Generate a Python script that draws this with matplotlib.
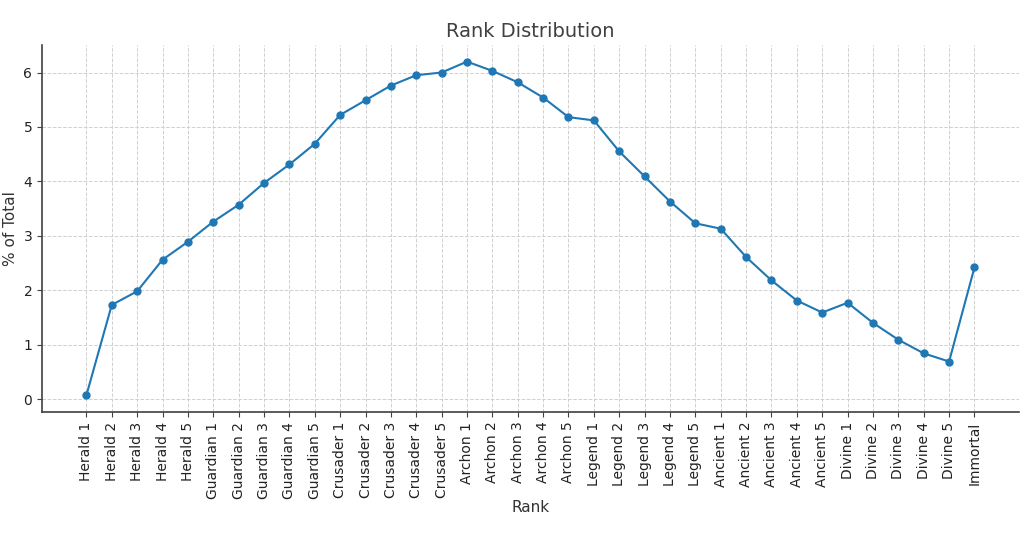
import matplotlib.pyplot as plt
import numpy as np

ranks = ['Herald 1', 'Herald 2', 'Herald 3', 'Herald 4', 'Herald 5',
         'Guardian 1', 'Guardian 2', 'Guardian 3', 'Guardian 4', 'Guardian 5',
         'Crusader 1', 'Crusader 2', 'Crusader 3', 'Crusader 4', 'Crusader 5',
         'Archon 1', 'Archon 2', 'Archon 3', 'Archon 4', 'Archon 5',
         'Legend 1', 'Legend 2', 'Legend 3', 'Legend 4', 'Legend 5',
         'Ancient 1', 'Ancient 2', 'Ancient 3', 'Ancient 4', 'Ancient 5',
         'Divine 1', 'Divine 2', 'Divine 3', 'Divine 4', 'Divine 5',
         'Immortal']
percent = [0.07, 1.73, 1.98, 2.56, 2.89,
           3.26, 3.57, 3.97, 4.31, 4.69,
           5.22, 5.49, 5.76, 5.95, 6.00,
           6.20, 6.03, 5.82, 5.54, 5.18,
           5.12, 4.55, 4.09, 3.63, 3.23,
           3.13, 2.61, 2.18, 1.81, 1.59,
           1.77, 1.40, 1.09, 0.84, 0.69,
           2.42]

fig = plt.figure(figsize=(10.24, 5.35), dpi=100)
ax = fig.add_axes([0.041, 0.23, 0.954, 0.686])

ax.plot(ranks, percent, marker='o', color='#1f77b4', markersize=5, linewidth=1.5)

ax.set_title('Rank Distribution', fontsize=14, color='#404040')
ax.set_xlabel('Rank', fontsize=11, color='#333333', labelpad=1)
ax.set_ylabel('% of Total', fontsize=11, color='#333333')
ax.tick_params(axis='x', rotation=90, labelsize=10, colors='#404040', labelcolor='#222222')
ax.tick_params(axis='y', labelsize=10, colors='#404040', labelcolor='#222222')
ax.grid(True, linestyle='--', color='#d0d0d0', linewidth=0.7)
ax.set_axisbelow(True)
for s in ['top', 'right']:
    ax.spines[s].set_visible(False)
for s in ['left', 'bottom']:
    ax.spines[s].set_color('#404040')
    ax.spines[s].set_linewidth(1.2)

plt.savefig('out.png', dpi=100)
